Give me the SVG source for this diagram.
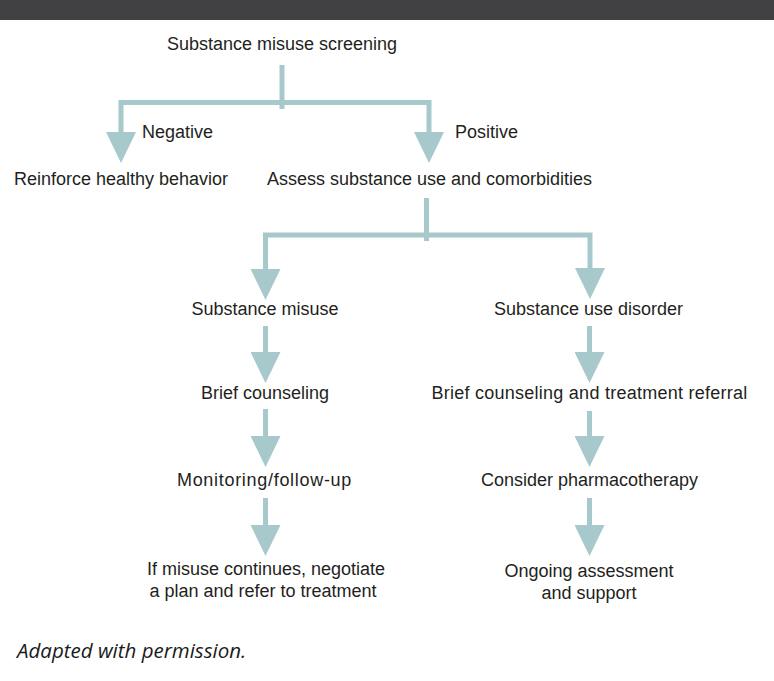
<svg xmlns="http://www.w3.org/2000/svg" width="774" height="681" viewBox="0 0 774 681">
<style>
  .t { font-family: "Liberation Sans", Arial, sans-serif; font-size: 18px; fill: #231f20; text-anchor: middle; }
  .l { text-anchor: start; }
  .c { fill: none; stroke: #a7c9cb; stroke-width: 5; stroke-linejoin: miter; }
  .cap { font-family: "Open Sans", "Noto Sans", sans-serif; font-style: italic; font-size: 20.5px; fill: #1a1a1a; }
</style>
<defs>
  <marker id="ah" viewBox="0 0 31 30" refX="0" refY="15" markerWidth="31" markerHeight="30" markerUnits="userSpaceOnUse" orient="auto">
    <polygon points="0,0 31,15 0,30" fill="#a7c9cb"/>
  </marker>
</defs>
<rect x="0" y="0" width="774" height="20" fill="#414143"/>

<g id="connectors">
  <path class="c" d="M282,65 V109"/>
  <path class="c" d="M282,102.5 H121 V132" marker-end="url(#ah)"/>
  <path class="c" d="M282,102.5 H429 V132" marker-end="url(#ah)"/>
  <path class="c" d="M426.5,198 V241"/>
  <path class="c" d="M426.5,235 H265.5 V269" marker-end="url(#ah)"/>
  <path class="c" d="M426.5,235 H590 V268" marker-end="url(#ah)"/>
  <path class="c" d="M265.5,326 V352" marker-end="url(#ah)"/>
  <path class="c" d="M265.5,409 V436" marker-end="url(#ah)"/>
  <path class="c" d="M265.5,498 V525" marker-end="url(#ah)"/>
  <path class="c" d="M589.5,326 V352" marker-end="url(#ah)"/>
  <path class="c" d="M589.5,411 V436" marker-end="url(#ah)"/>
  <path class="c" d="M589.5,498 V525" marker-end="url(#ah)"/>
</g>

<g id="screening"><text class="t" x="282" y="50">Substance misuse screening</text></g>
<g id="negative"><text class="t l" x="142" y="138">Negative</text></g>
<g id="positive"><text class="t l" x="455" y="138">Positive</text></g>
<g id="reinforce"><text class="t" x="121" y="185">Reinforce healthy behavior</text></g>
<g id="assess"><text class="t" x="429.5" y="185">Assess substance use and comorbidities</text></g>
<g id="misuse"><text class="t" x="265" y="315">Substance misuse</text></g>
<g id="disorder"><text class="t" x="588.5" y="315">Substance use disorder</text></g>
<g id="brief1"><text class="t" x="265" y="399">Brief counseling</text></g>
<g id="brief2"><text class="t" x="589.5" y="399" letter-spacing="0.25">Brief counseling and treatment referral</text></g>
<g id="monitor"><text class="t" x="264.5" y="486" letter-spacing="0.7">Monitoring/follow-up</text></g>
<g id="pharma"><text class="t" x="589.5" y="486">Consider pharmacotherapy</text></g>
<g id="continues"><text class="t" x="266" y="575">If misuse continues, negotiate</text><text class="t" x="263" y="597">a plan and refer to treatment</text></g>
<g id="ongoing"><text class="t" x="589" y="577">Ongoing assessment</text><text class="t" x="589" y="599">and support</text></g>
<text class="cap" x="17" y="658">Adapted with permission.</text>
</svg>
